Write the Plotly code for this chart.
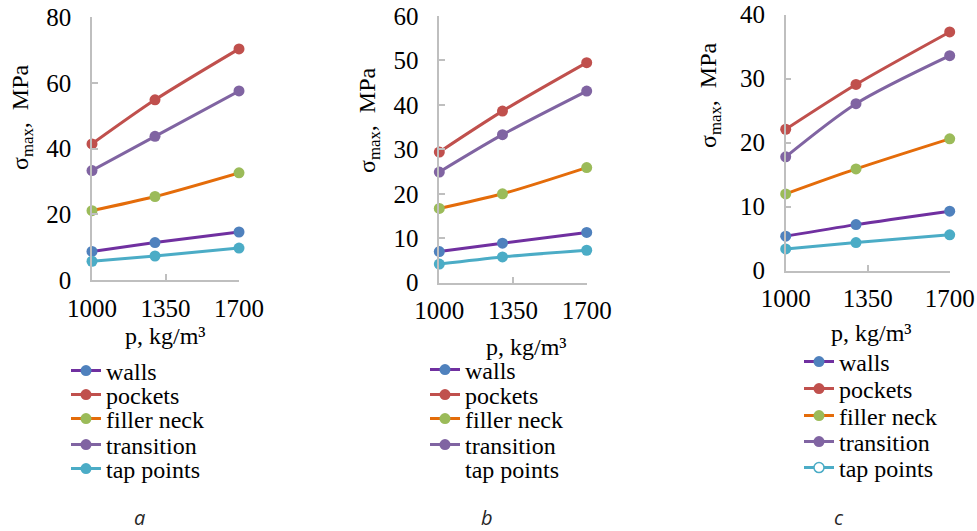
import plotly.graph_objects as go

W, H = 977, 531

density = [1000, 1300, 1700]
tick_vals = [1000, 1350, 1700]
tick_text = ["1000", "1350", "1700"]

series_names = ["walls", "pockets", "filler neck", "transition", "tap points"]

# panel a
a_walls = [8.7, 11.4, 14.6]
a_pockets = [41.4, 54.8, 70.3]
a_filler = [21.1, 25.4, 32.6]
a_transition = [33.3, 43.7, 57.5]
a_tap = [5.7, 7.3, 9.7]
# panel b
b_walls = [7.0, 8.9, 11.3]
b_pockets = [29.4, 38.6, 49.5]
b_filler = [16.7, 20.0, 25.9]
b_transition = [24.9, 33.3, 43.1]
b_tap = [4.2, 5.8, 7.3]
# panel c
c_walls = [5.4, 7.2, 9.3]
c_pockets = [22.1, 29.1, 37.3]
c_filler = [12.0, 15.9, 20.6]
c_transition = [17.8, 26.1, 33.6]
c_tap = [3.4, 4.4, 5.6]

panels = [
    dict(data=[a_walls, a_pockets, a_filler, a_transition, a_tap], ymax=80, dtick=20,
         xd=(92, 239), yd=(17, 280), label="a"),
    dict(data=[b_walls, b_pockets, b_filler, b_transition, b_tap], ymax=60, dtick=10,
         xd=(439.3, 586.7), yd=(16, 282.7), label="b"),
    dict(data=[c_walls, c_pockets, c_filler, c_transition, c_tap], ymax=40, dtick=10,
         xd=(785.7, 949.7), yd=(14.7, 270.7), label="c"),
]

line_colors = ["#7030A0", "#C0504D", "#E46C0A", "#8064A2", "#4BACC6"]
marker_colors = ["#4F81BD", "#C0504D", "#9BBB59", "#8064A2", "#4BACC6"]

SERIF = "Liberation Serif, Times New Roman, Times, serif"

def px(x):
    return x / W

def py(y):
    return 1 - y / H

fig = go.Figure()
layout = dict(
    width=W, height=H, margin=dict(l=0, r=0, t=0, b=0, autoexpand=False),
    paper_bgcolor="white", plot_bgcolor="white",
    showlegend=True, annotations=[],
)

legend_rows = [
    [371, 395, 419, 445, 469],
    [370, 395, 419, 445, 469],
    [362, 389, 416, 442, 468],
]
legend_left = [66, 425, 799]
xtitle_pos = [(165, 336), (526, 347), (871, 333)]
ytitle_pos = [(22, 117), (369, 120), (710, 95)]
label_pos = [(139, 517), (487, 517), (839, 517)]

for p, pan in enumerate(panels):
    xa = "xaxis" if p == 0 else f"xaxis{p+1}"
    ya = "yaxis" if p == 0 else f"yaxis{p+1}"
    xref = "x" if p == 0 else f"x{p+1}"
    yref = "y" if p == 0 else f"y{p+1}"
    layout[xa] = dict(
        domain=[px(pan["xd"][0]), px(pan["xd"][1])], range=[1000, 1700],
        tickvals=tick_vals, ticktext=tick_text, anchor=yref, automargin=False,
        showline=True, linecolor="#BFBFBF", linewidth=1.5, showgrid=False, zeroline=False,
        ticks="inside", ticklen=6, tickcolor="#BFBFBF", tickwidth=1.5,
        tickfont=dict(family=SERIF, size=25, color="black"), ticklabelstandoff=5,
    )
    layout[ya] = dict(
        domain=[py(pan["yd"][1]), py(pan["yd"][0])], range=[0, pan["ymax"]],
        dtick=pan["dtick"], anchor=xref, automargin=False,
        showline=True, linecolor="#BFBFBF", linewidth=1.5, showgrid=False, zeroline=False,
        ticks="inside", ticklen=6, tickcolor="#BFBFBF", tickwidth=1.5,
        tickfont=dict(family=SERIF, size=25, color="black"), ticklabelstandoff=14,
    )
    for i, vals in enumerate(pan["data"]):
        k = p * 5 + i + 1
        lg = "legend" if k == 1 else f"legend{k}"
        custom_legend = (p >= 1 and i == 4)
        fig.add_trace(go.Scatter(
            x=density, y=vals, name=series_names[i], mode="lines+markers",
            xaxis=xref, yaxis=yref, cliponaxis=False,
            line=dict(color=line_colors[i], width=3, shape="spline", smoothing=0.8),
            marker=dict(color=marker_colors[i], size=11),
            legend=lg, showlegend=not custom_legend,
        ))
        if custom_legend:
            if p == 1:
                fig.add_trace(go.Scatter(
                    x=[None], y=[None], name=series_names[i], mode="lines",
                    xaxis=xref, yaxis=yref, line=dict(color="rgba(0,0,0,0)", width=0),
                    legend=lg, showlegend=True, hoverinfo="skip",
                ))
            else:
                fig.add_trace(go.Scatter(
                    x=[None], y=[None], name=series_names[i], mode="lines+markers",
                    xaxis=xref, yaxis=yref, line=dict(color=line_colors[i], width=3),
                    marker=dict(color="white", size=10, line=dict(color=line_colors[i], width=1.5)),
                    legend=lg, showlegend=True, hoverinfo="skip",
                ))
        layout[lg] = dict(
            x=px(legend_left[p]), y=py(legend_rows[p][i]), xanchor="left", yanchor="middle",
            bgcolor="rgba(0,0,0,0)", borderwidth=0,
            font=dict(family=SERIF, size=24, color="black"),
            tracegroupgap=0, itemclick=False, itemdoubleclick=False,
        )
    xt = xtitle_pos[p]
    layout["annotations"].append(dict(
        text="p, kg/m³", x=px(xt[0]), y=py(xt[1]), xref="paper", yref="paper",
        showarrow=False, xanchor="center", yanchor="middle",
        font=dict(family=SERIF, size=24, color="black"),
    ))
    yt = ytitle_pos[p]
    layout["annotations"].append(dict(
        text="σ<sub>max</sub>,  MPa", x=px(yt[0]), y=py(yt[1]), xref="paper", yref="paper",
        showarrow=False, xanchor="center", yanchor="middle", textangle=-90,
        font=dict(family=SERIF, size=24, color="black"),
    ))
    lp = label_pos[p]
    layout["annotations"].append(dict(
        text=f"<i>{pan['label']}</i>", x=px(lp[0]), y=py(lp[1]), xref="paper", yref="paper",
        showarrow=False, xanchor="center", yanchor="middle",
        font=dict(family="Open Sans", size=20, color="#262626"),
    ))

fig.update_layout(**layout)
fig.write_html("out.html", config={"displayModeBar": False},
               post_script="document.body.style.margin='0';")
